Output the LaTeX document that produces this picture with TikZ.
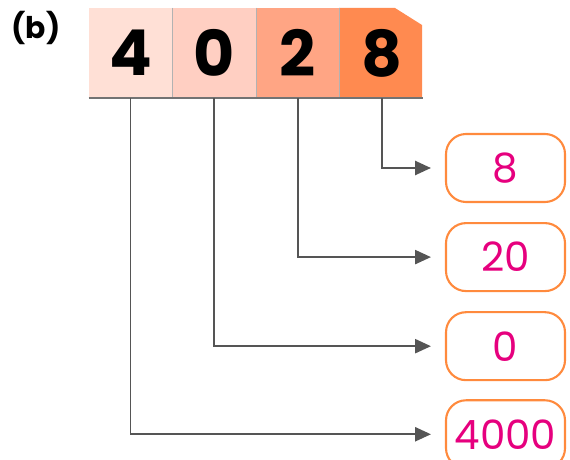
\documentclass[tikz,border=0pt]{standalone}
\usepackage{fontspec}
\setmainfont{Poppins}
\usetikzlibrary{arrows.meta, positioning}

\definecolor{cellA}{HTML}{FFE0D6}
\definecolor{cellB}{HTML}{FFCFC2}
\definecolor{cellC}{HTML}{FFA584}
\definecolor{cellD}{HTML}{FF8A50}
\definecolor{boxorange}{HTML}{FF8A3D}
\definecolor{digitpink}{HTML}{E6007E}
\definecolor{linegray}{HTML}{555555}

\begin{document}
\begin{tikzpicture}[x=0.02cm, y=-0.02cm,
    cell/.style={minimum width=1.66cm, minimum height=1.8cm, inner sep=0pt,
        font=\fontsize{36}{36}\selectfont\bfseries},
    result/.style={draw=boxorange, line width=1.2pt, rounded corners=0.4cm,
        minimum width=2.38cm, minimum height=1.36cm, inner sep=0pt,
        text=digitpink, font=\fontsize{23}{23}\selectfont},
    conn/.style={draw=linegray, line width=1.1pt,
        -{Triangle[length=9pt, width=8pt]}, shorten >=0.28cm}]
    \useasboundingbox (0,0) rectangle (570,459);

    % Label
    \node[font=\fontsize{17}{17}\selectfont\bfseries] (lbl) at (36,28) {(b)};

    % Digit cells
    \node[cell, fill=cellA] (c4) at (130.5,53) {4};
    \node[cell, fill=cellB, right=0pt of c4] (c0) {0};
    \node[cell, fill=cellC, right=0pt of c0] (c2) {2};
    \fill[cellD] (339,8) -- (395,8) -- (422,25) -- (422,98) -- (339,98) -- cycle;
    \node[cell, right=0pt of c2] (c8) {8};

    % Cell edges and shadow
    \draw[black!30, line width=0.5pt] (c4.north east) -- (c4.south east);
    \draw[black!30, line width=0.5pt] (c0.north east) -- (c0.south east);
    \draw[black!30, line width=0.5pt] (c2.north east) -- (c2.south east);
    \draw[black!55, line width=1pt] (c4.south west) -- (c8.south east);

    % Place values
    \node[result] (r8) at (505.5,168) {8};
    \node[result, below=0.38cm of r8] (r20) {20};
    \node[result, below=0.38cm of r20] (r0) {0};
    \node[result, below=0.36cm of r0] (r4000) {4000};

    % Connectors
    \draw[conn] (c8.south) |- (r8);
    \draw[conn] (c2.south) |- (r20);
    \draw[conn] (c0.south) |- (r0);
    \draw[conn] (c4.south) |- (r4000);
\end{tikzpicture}
\end{document}
